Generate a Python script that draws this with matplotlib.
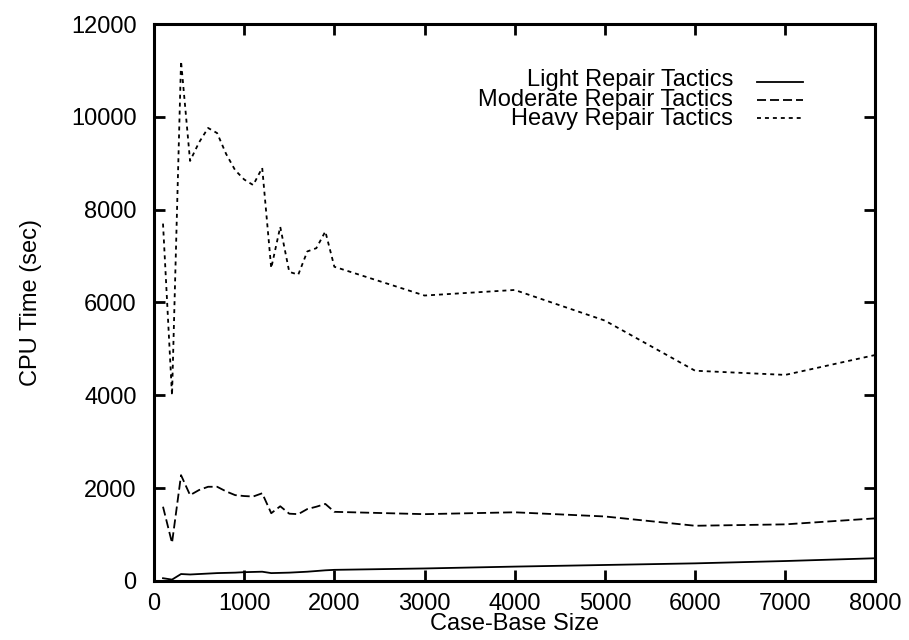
import matplotlib
matplotlib.use("Agg")
import matplotlib.pyplot as plt

plt.rcParams['font.family'] = ['Liberation Sans', 'DejaVu Sans']

case_base_size = [100, 200, 300, 400, 500, 600, 700, 800, 900, 1000, 1100, 1200, 1300,
                  1400, 1500, 1600, 1700, 1800, 1900, 2000, 3000, 4000, 5000, 6000, 7000, 8000]

light_cpu = [60, 30, 150, 140, 150, 160, 170, 175, 180, 190, 195, 200, 170,
             175, 180, 190, 200, 215, 230, 240, 270, 310, 345, 380, 430, 490]

moderate_cpu = [1600, 820, 2280, 1850, 1960, 2030, 2030, 1930, 1850, 1830, 1820, 1890, 1460,
                1610, 1450, 1440, 1550, 1600, 1660, 1490, 1440, 1480, 1390, 1190, 1220, 1350]

heavy_cpu = [7700, 4000, 11200, 9050, 9450, 9760, 9650, 9200, 8850, 8650, 8530, 8900, 6740,
             7630, 6660, 6600, 7100, 7170, 7530, 6770, 6150, 6270, 5610, 4530, 4440, 4870]

series = [
    ("Light Repair Tactics", light_cpu, "-"),
    ("Moderate Repair Tactics", moderate_cpu, (0, (5.0, 2.2))),
    ("Heavy Repair Tactics", heavy_cpu, (0, (2.2, 2.2))),
]

FS = 17
LW = 1.3

fig = plt.figure(figsize=(9.09, 6.4), dpi=100)
ax = fig.add_axes([0.1694, 0.0922, 0.7937, 0.8703])

for label, values, style in series:
    ax.plot(case_base_size, values, color="black", linewidth=LW, linestyle=style)

ax.set_xlim(0, 8000)
ax.set_ylim(0, 12000)
ax.set_xticks(range(0, 8001, 1000))
ax.set_yticks(range(0, 12001, 2000))

for sp in ax.spines.values():
    sp.set_linewidth(2.2)

ax.tick_params(axis="both", direction="in", length=8, width=2,
               top=True, right=True, labelsize=FS)
ax.tick_params(axis="y", pad=12.5)
ax.tick_params(axis="x", pad=8.5)

ax.set_xlabel("Case-Base Size", fontsize=FS, labelpad=-1)
ax.set_ylabel("CPU Time (sec)", fontsize=FS, labelpad=21)

# key drawn gnuplot-style: right-aligned labels with the line samples after them
row_step = 0.0325
row_mid = 0.864
ax.text(0.803, row_mid, "\n".join(s[0] for s in series), transform=ax.transAxes,
        ha="right", va="center", multialignment="right", fontsize=FS, linespacing=0.84)
for i, (label, values, style) in enumerate(series):
    y = row_mid + (1 - i) * row_step
    ax.plot([0.836, 0.899], [y, y], transform=ax.transAxes, color="black",
            linewidth=LW, linestyle=style)

fig.savefig("out.png", dpi=100)
